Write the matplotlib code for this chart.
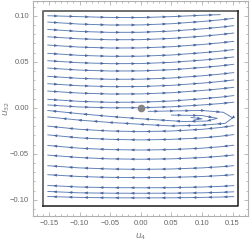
import numpy as np
import matplotlib
matplotlib.use("Agg")
import matplotlib.pyplot as plt
from matplotlib.patches import FancyArrowPatch
from matplotlib.ticker import MultipleLocator, FixedLocator

# streamlines (u4, u32)
grid_x = [-0.152, -0.10, -0.05, 0.0, 0.05, 0.10, 0.13, 0.152]

# flowing to the right (upper half)
upper_y = [
    [0.1000, 0.0990, 0.0981, 0.0980, 0.0990, 0.1005, 0.1012, np.nan],
    [0.0931, 0.0909, 0.0899, 0.0900, 0.0913, 0.0937, 0.0955, 0.0972],
    [0.0851, 0.0829, 0.0819, 0.0820, 0.0833, 0.0857, 0.0875, 0.0892],
    [0.0771, 0.0749, 0.0739, 0.0740, 0.0753, 0.0777, 0.0795, 0.0812],
    [0.0681, 0.0659, 0.0649, 0.0650, 0.0663, 0.0687, 0.0705, 0.0722],
    [0.0591, 0.0569, 0.0559, 0.0560, 0.0573, 0.0597, 0.0615, 0.0632],
    [0.0511, 0.0489, 0.0479, 0.0480, 0.0493, 0.0517, 0.0535, 0.0552],
    [0.0431, 0.0409, 0.0399, 0.0400, 0.0413, 0.0437, 0.0455, 0.0472],
    [0.0341, 0.0319, 0.0309, 0.0310, 0.0323, 0.0347, 0.0365, 0.0382],
    [0.0261, 0.0239, 0.0229, 0.0230, 0.0243, 0.0267, 0.0285, 0.0302],
    [0.0181, 0.0159, 0.0149, 0.0150, 0.0163, 0.0187, 0.0205, 0.0222],
    [0.0091, 0.0069, 0.0059, 0.0060, 0.0073, 0.0097, 0.0115, 0.0132],
    [0.0030, 0.0008, -0.0001, 0.0000, 0.0010, 0.0030, 0.0045, 0.0060],
]

# flowing to the left (lower half)
lower_y = [
    [-0.0200, -0.0235, -0.0253, -0.0260, -0.0253, -0.0235, -0.0215, -0.0195],
    [-0.0295, -0.0328, -0.0344, -0.0350, -0.0344, -0.0328, -0.0310, -0.0292],
    [-0.0410, -0.0440, -0.0455, -0.0460, -0.0455, -0.0440, -0.0424, -0.0408],
    [-0.0515, -0.0542, -0.0556, -0.0560, -0.0556, -0.0542, -0.0528, -0.0514],
    [-0.0630, -0.0654, -0.0666, -0.0670, -0.0666, -0.0654, -0.0642, -0.0630],
    [-0.0728, -0.0748, -0.0757, -0.0760, -0.0757, -0.0748, -0.0738, -0.0728],
    [-0.0845, -0.0862, -0.0869, -0.0870, -0.0869, -0.0862, -0.0855, -0.0847],
    [-0.0910, -0.0925, -0.0929, -0.0930, -0.0929, -0.0925, -0.0920, -0.0914],
    [-0.0965, -0.0975, -0.0979, -0.0980, -0.0979, -0.0975, -0.0971, -0.0966],
]

# turning lines near the right edge (listed in flow order)
nose_x = [
    [0.012, 0.05, 0.10, 0.135, 0.150, 0.138, 0.10, 0.05, 0.0, -0.05, -0.10, -0.152],
    [0.05, 0.10, 0.125, 0.108, 0.07, 0.0, -0.05, -0.10, -0.152],
    [0.082, 0.100, 0.086],
]
nose_y = [
    [-0.0040, -0.0035, -0.0030, -0.0050, -0.0110, -0.0170, -0.0190, -0.0198, -0.0180,
     -0.0160, -0.0135, -0.0100],
    [-0.0080, -0.0085, -0.0115, -0.0145, -0.0150, -0.0120, -0.0095, -0.0065, -0.0030],
    [-0.0105, -0.0120, -0.0135],
]

fixed_pt = (0.0, 0.0)
rect = (-0.159, -0.1065, 0.159, 0.1054)

line_col = "#6483b8"
arrow_col = "#4a679e"

fig = plt.figure(figsize=(2.5, 2.42), dpi=100)
ax = fig.add_axes((33.3 / 250, 26 / 242, (248 - 33.3) / 250, (241 - 26) / 242))
ax.set_xlim(-0.1755, 0.1752)
ax.set_ylim(-0.1177, 0.116)

SX, SY = 612.0, 920.0  # px per data unit


def draw_stream(xs, ys):
    xs = np.asarray(xs, float)
    ys = np.asarray(ys, float)
    ok = ~np.isnan(ys)
    xs, ys = xs[ok], ys[ok]
    ax.plot(xs, ys, color=line_col, lw=0.7, solid_capstyle="round", zorder=2)
    px, py = xs * SX, ys * SY
    seg = np.hypot(np.diff(px), np.diff(py))
    cum = np.concatenate([[0], np.cumsum(seg)])
    s = 9.0
    while s < cum[-1] - 3:
        i = np.searchsorted(cum, s) - 1
        i = max(0, min(i, len(seg) - 1))
        t = (s - cum[i]) / seg[i]
        x = xs[i] + t * (xs[i + 1] - xs[i])
        y = ys[i] + t * (ys[i + 1] - ys[i])
        dx = (xs[i + 1] - xs[i]) / seg[i] * 1.2
        dy = (ys[i + 1] - ys[i]) / seg[i] * 1.2
        ax.add_patch(FancyArrowPatch((x - dx, y - dy), (x + dx, y + dy),
                                     arrowstyle="-|>,head_length=0.9,head_width=0.35",
                                     mutation_scale=3, lw=0, color=arrow_col,
                                     shrinkA=0, shrinkB=0, zorder=3))
        s += 15.5


for row in upper_y:
    draw_stream(grid_x, row)
for row in lower_y:
    draw_stream(grid_x[::-1], row[::-1])
for xs, ys in zip(nose_x, nose_y):
    draw_stream(xs, ys)

x0, y0, x1, y1 = rect
ax.plot([x0, x0, x1], [y0, y1, y1], color="#6e6e6e", lw=1.4, zorder=4)
ax.plot([x0, x1, x1], [y0, y0, y1], color="#1a1a1a", lw=1.1, zorder=4)

ax.plot(*fixed_pt, "o", ms=4.5, color="#858585", zorder=5)

frame_col = "#b0b0b0"
for sp in ax.spines.values():
    sp.set_color(frame_col)
    sp.set_linewidth(0.8)

xt = [-0.15, -0.10, -0.05, 0.0, 0.05, 0.10, 0.15]
yt = [-0.10, -0.05, 0.0, 0.05, 0.10]
ax.xaxis.set_major_locator(FixedLocator(xt))
ax.yaxis.set_major_locator(FixedLocator(yt))
ax.xaxis.set_minor_locator(MultipleLocator(0.01))
ax.yaxis.set_minor_locator(MultipleLocator(0.01))
ax.set_xticklabels(["\u22120.15", "\u22120.10", "\u22120.05", "0.00", "0.05", "0.10", "0.15"])
ax.set_yticklabels(["\u22120.10", "\u22120.05", "0.00", "0.05", "0.10"])
ax.tick_params(which="both", direction="in", top=True, right=True, color=frame_col,
               width=0.6, labelsize=5.5, labelcolor="#666666")
ax.tick_params(which="major", length=2.8, pad=3)
ax.tick_params(which="minor", length=1.5)
for lab in ax.get_xticklabels() + ax.get_yticklabels():
    lab.set_family("Liberation Sans")

ax.set_xlabel(r"$u_4$", fontsize=6.5, color="#777777", labelpad=3)
ax.set_ylabel(r"$u_{32}$", fontsize=6.5, color="#777777")
ax.yaxis.set_label_coords(-0.098, 0.5)

fig.savefig("out.png", dpi=100)
